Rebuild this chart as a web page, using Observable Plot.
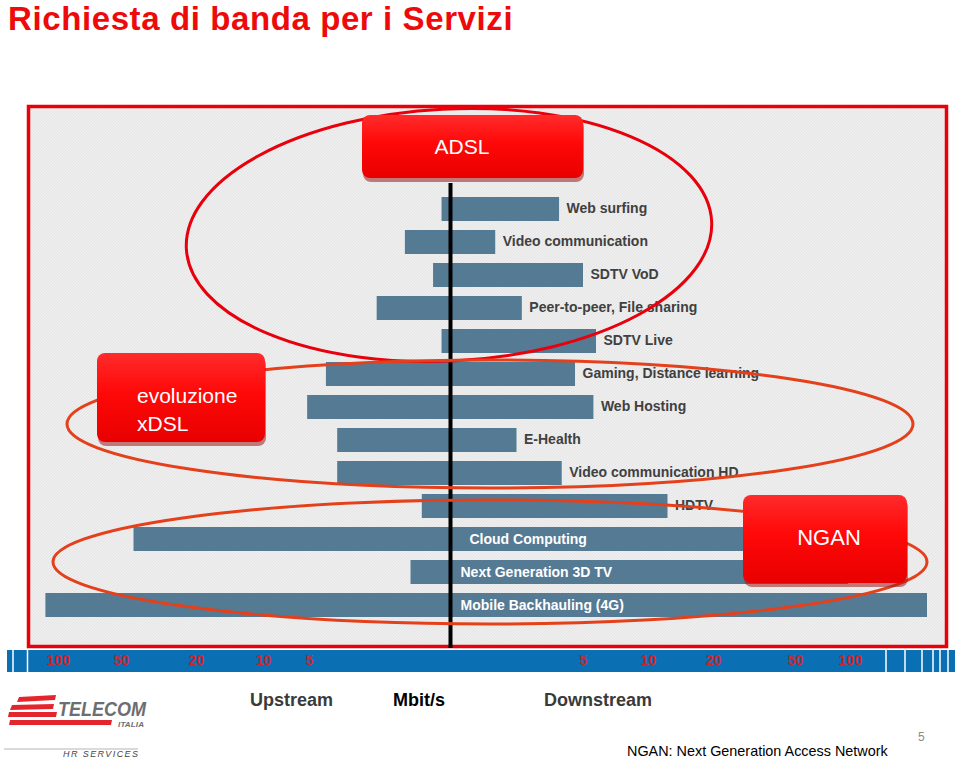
<!DOCTYPE html>
<html>
<head>
<meta charset="utf-8">
<script src="https://cdn.jsdelivr.net/npm/d3@7"></script>
<script src="https://cdn.jsdelivr.net/npm/@observablehq/plot@0.6"></script>
<style>
html, body { margin: 0; padding: 0; background: #fff; }
#page { position: relative; width: 960px; height: 765px; overflow: hidden; font-family: "Liberation Sans", Arial, sans-serif; }
#page > svg { position: absolute; left: 0; top: 0; }
.t { position: absolute; white-space: nowrap; line-height: 1; }
</style>
</head>
<body>
<div id="page"></div>
<script>
// ---------- data ----------
const services = [
  "Web surfing", "Video communication", "SDTV VoD", "Peer-to-peer, File sharing",
  "SDTV Live", "Gaming, Distance learning", "Web Hosting", "E-Health",
  "Video communication HD", "HDTV", "Cloud Computing", "Next Generation 3D TV",
  "Mobile Backhauling (4G)"
];
const upstream   = [0.3, 1.6, 0.6, 2.6, 0.3, 4.4, 5.2, 4, 4, 1, 45, 1.4, 110];   // Mbit/s
const downstream = [4.1, 1.7, 5, 2.7, 6, 4.7, 5.8, 2.5, 4.2, 13, 50, 98, 170];   // Mbit/s
const insideLabels = ["Cloud Computing", "Next Generation 3D TV", "Mobile Backhauling (4G)"];
const tickValues = [100, 50, 20, 10, 5];
const groupLabels = ["ADSL", "evoluzione xDSL", "NGAN"];
const axisWords = ["Upstream", "Mbit/s", "Downstream"];
const titleText = "Richiesta di banda per i Servizi";
const footnote = "NGAN: Next Generation Access Network";
const pageNumber = "5";

// ---------- build ----------
const rows = services.map((name, i) => ({name, up: upstream[i], down: downstream[i]}));
const ticks = [...tickValues.map(v => -v), ...tickValues.slice().reverse()];

const font = "'Liberation Sans', Arial, sans-serif";

const chart = Plot.plot({
  width: 960,
  height: 765,
  marginTop: 182,
  marginBottom: 132,
  marginLeft: 0,
  marginRight: 0,
  style: {background: "transparent", fontFamily: font, overflow: "visible"},
  x: {
    type: "linear",
    domain: [-100, -50, -20, -10, -5, 0, 5, 10, 20, 50, 100],
    range: [58, 121, 196, 263, 309, 450, 583, 648, 713, 795, 850],
    label: null
  },
  y: {type: "band", domain: services, padding: 0.265, axis: null, label: null},
  marks: [
    Plot.barX(rows, {x1: d => -d.up, x2: "down", y: "name", fill: "#547a94"}),
    Plot.ruleX([0], {stroke: "#000", strokeWidth: 4, insetTop: 1, insetBottom: -15}),
    Plot.text(rows.filter(d => !insideLabels.includes(d.name)), {
      x: "down", y: "name", text: "name", dx: 7, dy: -1, textAnchor: "start",
      fill: "#404040", fontSize: 14, fontWeight: "bold"
    }),
    Plot.text(rows.filter(d => d.name === insideLabels[0]), {
      x: () => 0, y: "name", text: "name", dx: 19, textAnchor: "start",
      fill: "#fff", fontSize: 14, fontWeight: "bold"
    }),
    Plot.text(rows.filter(d => insideLabels.slice(1).includes(d.name)), {
      x: () => 0, y: "name", text: "name", dx: 10, textAnchor: "start",
      fill: "#fff", fontSize: 14, fontWeight: "bold"
    }),
    Plot.axisX(ticks, {
      anchor: "bottom", tickSize: 0, tickPadding: 22, label: null,
      tickFormat: d => Math.abs(d), fontSize: 14, fontWeight: "bold",
      fill: "#d3222a", color: "#d3222a"
    })
  ]
});

const page = document.getElementById("page");
page.appendChild(chart);

// ---------- decorations ----------
const svg = d3.select(chart);
const defs = svg.insert("defs", ":first-child");
const pat = defs.append("pattern").attr("id", "tex").attr("width", 3).attr("height", 3)
  .attr("patternUnits", "userSpaceOnUse");
pat.append("rect").attr("width", 3).attr("height", 3).attr("fill", "#eeeeee");
pat.append("path").attr("d", "M0,3L3,0").attr("stroke", "#e2e2e2").attr("stroke-width", 0.8);
const grad = defs.append("linearGradient").attr("id", "boxGrad").attr("x1", 0).attr("y1", 0).attr("x2", 0).attr("y2", 1);
grad.append("stop").attr("offset", "0%").attr("stop-color", "#ff2b2b");
grad.append("stop").attr("offset", "45%").attr("stop-color", "#ff0808");
grad.append("stop").attr("offset", "100%").attr("stop-color", "#e80000");

const bg = svg.insert("g", "defs + *");
bg.append("rect").attr("x", 28.5).attr("y", 106.5).attr("width", 918).attr("height", 540)
  .attr("fill", "url(#tex)").attr("stroke", "#e8000b").attr("stroke-width", 3.5);
bg.append("rect").attr("x", 7).attr("y", 650).attr("width", 948).attr("height", 22).attr("fill", "#0a6fb3");
[13, 27.5, 886, 905, 922, 933, 940, 948].forEach(x => {
  bg.append("line").attr("x1", x).attr("x2", x).attr("y1", 650).attr("y2", 672)
    .attr("stroke", "#fff").attr("stroke-width", 1.5);
});

const fg = svg.append("g").attr("text-anchor", "start");
// ellipses
fg.append("ellipse").attr("cx", 449).attr("cy", 235).attr("rx", 263).attr("ry", 126)
  .attr("transform", "rotate(-3 449 235)")
  .attr("fill", "none").attr("stroke", "#e8000d").attr("stroke-width", 3);
fg.append("ellipse").attr("cx", 490).attr("cy", 424).attr("rx", 423).attr("ry", 64)
  .attr("fill", "none").attr("stroke", "#e4401b").attr("stroke-width", 3);
fg.append("ellipse").attr("cx", 490).attr("cy", 562).attr("rx", 437).attr("ry", 62)
  .attr("fill", "none").attr("stroke", "#e4401b").attr("stroke-width", 3);

// red boxes
function box(x, y, w, h) {
  fg.append("rect").attr("x", x + 1).attr("y", y + 4).attr("width", w).attr("height", h)
    .attr("rx", 8).attr("fill", "#9e1a1a").attr("opacity", 0.55);
  fg.append("rect").attr("x", x).attr("y", y).attr("width", w).attr("height", h)
    .attr("rx", 8).attr("fill", "url(#boxGrad)");
}
box(362, 115, 221, 63);
box(97, 353, 168, 89);
box(743, 495, 164, 88);
function boxText(str, x, y, size, anchor) {
  fg.append("text").attr("x", x).attr("y", y).attr("fill", "#fff")
    .attr("font-size", size).attr("font-family", font).attr("text-anchor", anchor).text(str);
}
boxText(groupLabels[0], 462, 154, 21, "middle");
boxText(groupLabels[1].split(" ")[0], 137, 403, 21, "start");
boxText(groupLabels[1].split(" ")[1], 137, 431, 21, "start");
boxText(groupLabels[2], 829, 545, 22, "middle");

// logo
const logo = fg.append("g").attr("text-anchor", "start");
[
  "M19,697 L56,695 L55,700 L17,702 Z",
  "M12,705 L54,704 L53,709 L10,710 Z",
  "M9,712 L57,712 L56,717 L8,717 Z",
  "M10,720 L112,720 L111,725 L9,725 Z"
].forEach(d => logo.append("path").attr("d", d).attr("fill", "#e3262d"));
logo.append("text").attr("x", 58).attr("y", 716).attr("font-size", 21).attr("font-weight", "bold")
  .attr("font-style", "italic").attr("font-family", font).attr("fill", "#6d6e71").attr("text-anchor", "start")
  .attr("textLength", 88).attr("lengthAdjust", "spacingAndGlyphs").text("TELECOM");
logo.append("text").attr("x", 118).attr("y", 727).attr("font-size", 8).attr("font-weight", "bold")
  .attr("font-style", "italic").attr("font-family", font).attr("fill", "#6d6e71").attr("text-anchor", "start")
  .attr("textLength", 26).text("ITALIA");
logo.append("line").attr("x1", 4).attr("x2", 138).attr("y1", 749).attr("y2", 749)
  .attr("stroke", "#b5b5b5").attr("stroke-width", 1);
logo.append("text").attr("x", 63).attr("y", 757).attr("font-size", 9)
  .attr("font-style", "italic").attr("font-family", font).attr("fill", "#444").attr("text-anchor", "start")
  .attr("textLength", 75).text("HR SERVICES");

// ---------- HTML texts ----------
function addText(str, left, top, size, weight, color) {
  const d = document.createElement("div");
  d.className = "t";
  d.textContent = str;
  Object.assign(d.style, {left: left + "px", top: top + "px", fontSize: size + "px", fontWeight: weight, color});
  page.appendChild(d);
  return d;
}
const title = addText(titleText, 8, 0, 33, "bold", "#ee0a0a");
title.style.letterSpacing = "0.6px";
title.style.lineHeight = "normal";
addText(axisWords[0], 250, 691, 18, "bold", "#3a3a3a");
addText(axisWords[1], 393, 691, 18, "bold", "#000");
addText(axisWords[2], 544, 691, 18, "bold", "#3a3a3a");
addText(footnote, 627, 744, 14.4, "normal", "#000");
addText(pageNumber, 918, 731, 12, "normal", "#8a8a8a");
</script>
</body>
</html>
